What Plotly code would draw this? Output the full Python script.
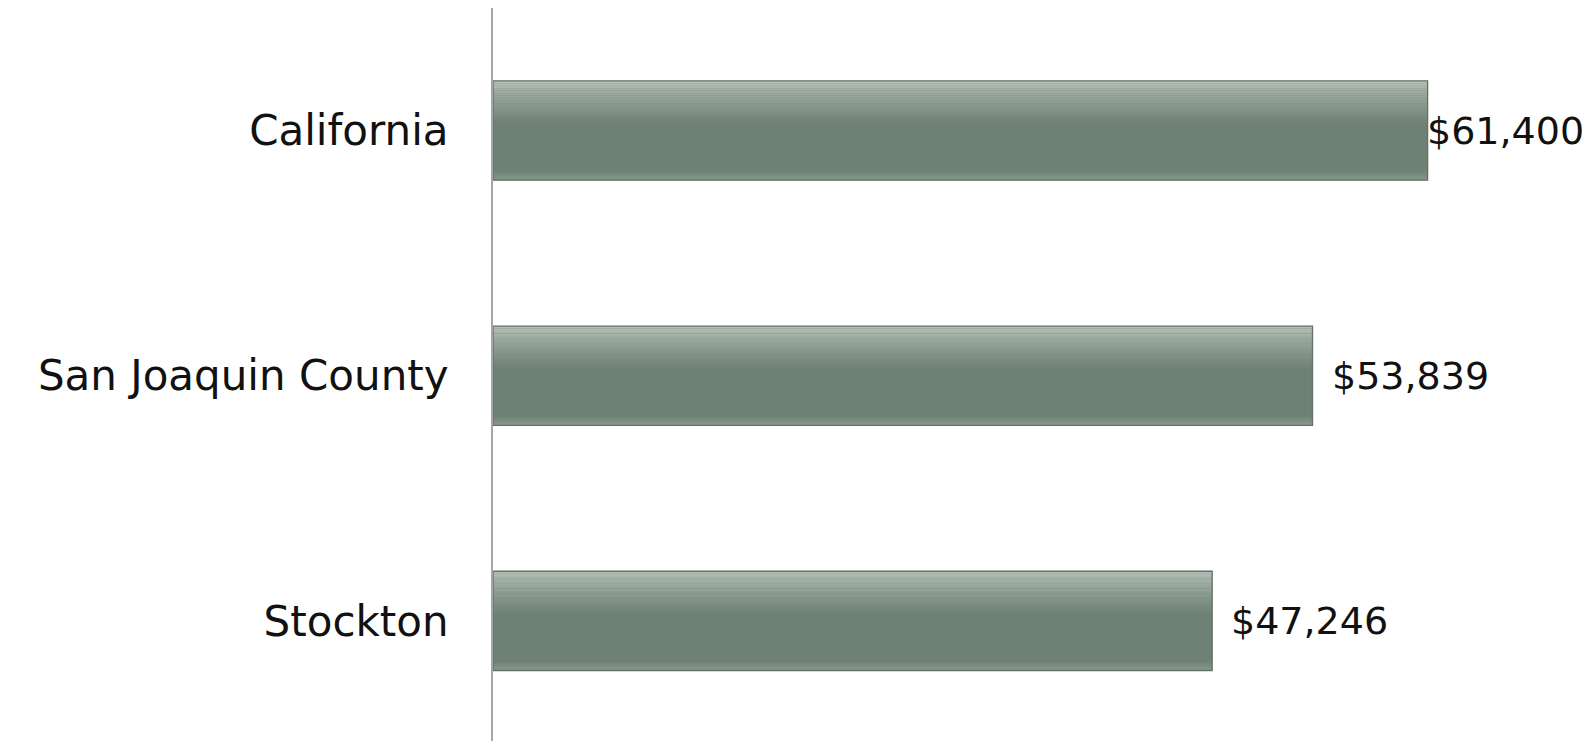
import plotly.graph_objects as go

categories = ["Stockton", "San Joaquin County", "California"]
values = [47246, 53839, 61400]
value_labels = ["$47,246", "$53,839", "$61,400"]

BAR_W = 0.405
FONT = "DejaVu Sans"

fig = go.Figure()

# main bar body
fig.add_trace(go.Bar(
    y=categories, x=values, orientation="h",
    width=BAR_W, offset=-BAR_W / 2,
    marker=dict(color="#6f8174", line=dict(width=0)),
    hoverinfo="skip", showlegend=False,
))

def lerp(c1, c2, t):
    a = [int(c1[i:i + 2], 16) for i in (1, 3, 5)]
    b = [int(c2[i:i + 2], 16) for i in (1, 3, 5)]
    return "#%02x%02x%02x" % tuple(round(a[k] + (b[k] - a[k]) * t) for k in range(3))

# top gradient strips (light to dark)
n = 18
top_frac = 0.45
sw = BAR_W * top_frac / n
for i in range(n):
    t = i / (n - 1)
    col = lerp("#b4c0b6", "#6f8174", t ** 0.8)
    off = BAR_W / 2 - (i + 1) * sw
    fig.add_trace(go.Bar(
        y=categories, x=values, orientation="h",
        width=sw * 1.05, offset=off,
        marker=dict(color=col, line=dict(width=0)),
        hoverinfo="skip", showlegend=False,
    ))

# slight lighter bottom edge
nb = 4
bw = BAR_W * 0.08 / nb
for i in range(nb):
    t = i / (nb - 1)
    col = lerp("#76887b", "#879889", t)
    off = -BAR_W / 2 + (nb - 1 - i) * bw
    fig.add_trace(go.Bar(
        y=categories, x=values, orientation="h",
        width=bw * 1.05, offset=off,
        marker=dict(color=col, line=dict(width=0)),
        hoverinfo="skip", showlegend=False,
    ))

# outline
fig.add_trace(go.Bar(
    y=categories, x=values, orientation="h",
    width=BAR_W, offset=-BAR_W / 2,
    marker=dict(color="rgba(0,0,0,0)", line=dict(color="#627166", width=1.3)),
    hoverinfo="skip", showlegend=False,
))

# value labels (the largest one is pulled back so it fits the slide)
vmax = max(values)
for cat, v, lab in zip(categories, values, value_labels):
    fig.add_annotation(
        x=v, y=cat, xref="x", yref="y", text=lab, showarrow=False,
        xanchor="left", yanchor="middle",
        xshift=-3 if v == vmax else 17,
        font=dict(family=FONT, size=38, color="#111111"),
    )

fig.update_layout(
    width=1591, height=741,
    barmode="overlay",
    plot_bgcolor="white", paper_bgcolor="white",
    margin=dict(l=493, r=20, t=8, b=0),
    xaxis=dict(range=[0, 70820], visible=False, showgrid=False, zeroline=False),
    yaxis=dict(
        range=[-0.49, 2.5],
        showline=True, linecolor="#a6a6a6", linewidth=2,
        ticks="", ticklabelstandoff=34,
        tickfont=dict(family=FONT, size=42, color="#111111"),
        showgrid=False, zeroline=False,
    ),
)

fig.write_html(
    "out.html",
    config={"displayModeBar": False},
    post_script="document.body.style.margin='0';document.body.style.overflow='hidden';",
)
